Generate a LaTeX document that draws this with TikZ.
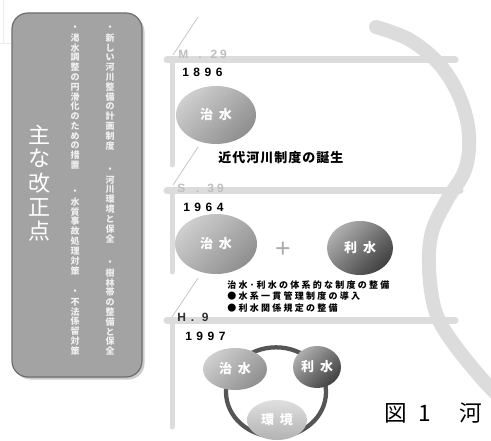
\documentclass[tikz,border=0pt]{standalone}
\usepackage{fontspec}
\setmainfont{Liberation Sans}
\newfontfamily\jp{Noto Sans CJK JP}
\usetikzlibrary{shapes.geometric}
\makeatletter
\newcommand\vstack[2]{\vbox{\offinterlineskip\@tfor\@ch:=#2\do{\vbox to #1{\vss\hbox to 10pt{\hss\@ch\hss}\vss}}}}
\newcommand\spaced[2]{\begingroup\def\@sep{}\@tfor\@ch:=#2\do{\@sep\@ch\def\@sep{\kern#1}}\endgroup}
\makeatother
\definecolor{barc}{HTML}{DCDCDC}
\definecolor{boxc}{HTML}{A3A3A3}
\definecolor{boxb}{HTML}{6E6E6E}
\definecolor{eraC}{HTML}{BEBEBE}
\definecolor{ringc}{HTML}{555555}
\tikzset{
  bar/.style={barc, line width=5.25pt, line cap=round},
  vbar/.style={barc, line width=3.75pt, line cap=round},
  tick/.style={gray!45, line width=0.6pt},
  lightell/.style={ellipse, inner sep=0pt, shading=axis, top color=gray!38, bottom color=gray!88, shading angle=45, text=white, font=\jp\bfseries\fontsize{9.75}{10}\selectfont},
  darkell/.style={ellipse, inner sep=0pt, shading=axis, top color=gray!105!white!60, bottom color=black!75, shading angle=45, text=white, font=\jp\bfseries\fontsize{9.75}{10}\selectfont},
  vcol/.style={anchor=north, inner sep=0pt, text=white!94!black, font=\jp\bfseries\fontsize{6.75}{7}\selectfont},
  era/.style={anchor=base west, inner sep=0pt, font=\bfseries\fontsize{9}{9}\selectfont},
  note/.style={anchor=base west, inner sep=0pt, font=\jp\bfseries\fontsize{6.75}{7}\selectfont}
}
\begin{document}
\begin{tikzpicture}[x=0.75pt,y=-0.75pt]
\clip (0,0) rectangle (491,441);
\fill[white] (0,0) rectangle (491,441);
% faint corner lines
\draw[gray!15, line width=0.6pt] (3,0) -- (3,43) -- (0,43);
\draw[gray!15, line width=0.6pt] (3,43) -- (11,43);
% left box
\fill[gray!40, rounded corners=12pt] (14.5,15.5) rectangle (144.5,379.5);
\draw[boxb, fill=boxc, line width=0.9pt, rounded corners=12pt] (12,13) rectangle (142,377);
\node[anchor=north, inner sep=0pt, text=white, font=\jp\fontsize{16.5}{17}\selectfont] (title) at (39,122) {\vstack{18.2pt}{主な改正点}};
\node[vcol] (c1a) at (110,23) {\vstack{7.35pt}{・新しい河川整備の計画制度}};
\node[vcol] (c1b) at (110,165) {\vstack{7.35pt}{・河川環境と保全}};
\node[vcol] (c1c) at (110,258) {\vstack{7.35pt}{・樹林帯の整備と保全}};
\node[vcol] (c2a) at (75,23) {\vstack{7.35pt}{・渇水調整の円滑化のための措置}};
\node[vcol] (c2b) at (75,187) {\vstack{7.35pt}{・水質事故処理対策}};
\node[vcol] (c2c) at (75,287) {\vstack{7.35pt}{・不法係留対策}};
% river curve
\draw[barc, line width=10.5pt, line cap=round] plot[smooth, tension=0.6] coordinates {(376,27) (410,40) (440,65) (460,98) (469,135) (465,170) (447,200) (432,232) (429,268) (435,310) (451,340) (483,380) (505,402)};
% timeline bars
\draw[bar] (167,60) -- (455,60);
\draw[bar] (167,191) -- (460,191);
\draw[bar] (167,320) -- (455,320);
\draw[vbar] (172,60) -- (172,165);
\draw[vbar] (172,191) -- (172,272);
\draw[vbar] (172,320) -- (172,427);
\draw[tick] (198,17) -- (173,55);
\draw[tick] (198,147) -- (173,185);
\draw[tick] (198,278) -- (172,317);
% era labels
\node[era, text=eraC] (m29) at (178,59) {M\kern7.5pt.\kern6.7pt2\kern2.2pt9};
\node[era] (y1896) at (182,77) {\spaced{3.4pt}{1896}};
\node[era, text=eraC] (s39) at (177,193) {S\kern8pt.\kern6pt3\kern2.4pt9};
\node[era] (y1964) at (183,212) {\spaced{3.4pt}{1964}};
\node[era, text=black!80] (h9) at (177,321) {H\kern3.7pt.\kern5.8pt9};
\node[era] (y1997) at (185,340) {\spaced{3.4pt}{1997}};
% 1896
\node[lightell, minimum width=60pt, minimum height=43.5pt] (chisui1) at (216,115) {治\kern4.5pt水};
\node[note, font=\jp\bfseries\fontsize{9.75}{10}\selectfont] (kindai) at (218,163) {\spaced{0.75pt}{近代河川制度の誕生}};
% 1964
\node[lightell, minimum width=61.5pt, minimum height=45pt] (chisui2) at (216,244) {治\kern4.5pt水};
\node[inner sep=0pt, text=gray!65, font=\fontsize{20}{20}\selectfont] (plus) at (283,250) {+};
\node[darkell, minimum width=49.5pt, minimum height=40.5pt] (risui2) at (360,248) {利\kern4.5pt水};
\node[note] (n1) at (227,288) {\spaced{1.7pt}{治水･利水の体系的な制度の整備}};
\node[note] (n2) at (227,299.5) {\spaced{1.7pt}{●水系一貫管理制度の導入}};
\node[note] (n3) at (227,311) {\spaced{1.7pt}{●利水関係規定の整備}};
% 1997
\node[ellipse, draw=ringc, line width=3.2pt, minimum width=75pt, minimum height=67pt, inner sep=0pt] (ring) at (276,392) {};
\node[lightell, minimum width=48pt, minimum height=31.5pt] (chisui3) at (235,369) {治\kern4.5pt水};
\node[darkell, minimum width=36pt, minimum height=31.5pt] (risui3) at (317,367) {利\kern4.5pt水};
\node[lightell, top color=gray!25, bottom color=gray!60, minimum width=45pt, minimum height=30pt] (kankyo) at (277,420) {環\kern4.5pt境};
% caption
\node[anchor=base west, inner sep=0pt, font=\jp\fontsize{17}{17}\selectfont] (cap) at (384,421) {図\kern9pt1\kern21pt河};
\end{tikzpicture}
\end{document}
